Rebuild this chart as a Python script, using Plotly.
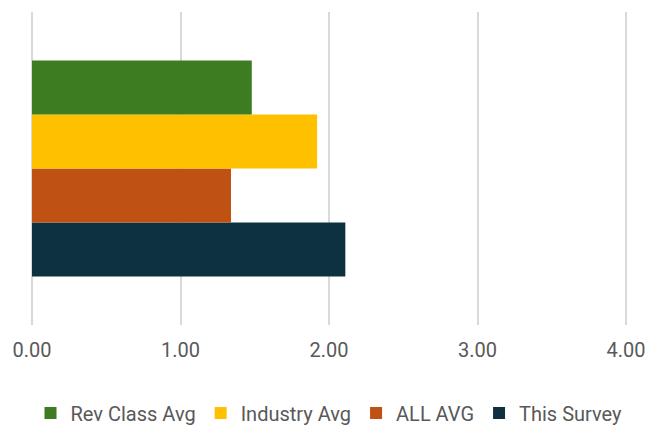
import plotly.graph_objects as go

series = ["Rev Class Avg", "Industry Avg", "ALL AVG", "This Survey"]
values = [1.48, 1.92, 1.34, 2.11]
colors = ["#3E7C22", "#FFC000", "#BF5113", "#0E3140"]
category = [""]
tick_vals = [0, 1, 2, 3, 4]
tick_text = ["0.00", "1.00", "2.00", "3.00", "4.00"]

fig = go.Figure()
# add in reverse so the first series is drawn on top
for i in reversed(range(len(series))):
    fig.add_trace(go.Bar(
        y=category, x=[values[i]], name=series[i], orientation="h",
        marker=dict(color=colors[i], line=dict(width=0)),
        legendrank=i + 1,
    ))

fig.update_layout(
    width=646, height=426,
    margin=dict(l=30, r=18, t=12, b=101, autoexpand=False),
    barmode="group", bargap=0.31, bargroupgap=0,
    plot_bgcolor="white", paper_bgcolor="white",
    font=dict(family="Roboto, Arial, sans-serif", color="#595959"),
    showlegend=True,
    legend=dict(orientation="h", x=0.5, xanchor="center", y=-0.281, yanchor="middle",
                font=dict(size=20, color="#595959"), itemwidth=30, traceorder="normal"),
    xaxis=dict(range=[-0.0135, 4.0135], tickvals=tick_vals, ticktext=tick_text,
               showgrid=True, gridcolor="#D9D9D9", gridwidth=2,
               zeroline=False, showline=False, ticks="",
               ticklabeloverflow="allow",
               ticklabelstandoff=11, tickfont=dict(size=20, color="#595959")),
    yaxis=dict(showticklabels=False, showgrid=False, zeroline=False, showline=False),
)

fig.write_html("out.html")
